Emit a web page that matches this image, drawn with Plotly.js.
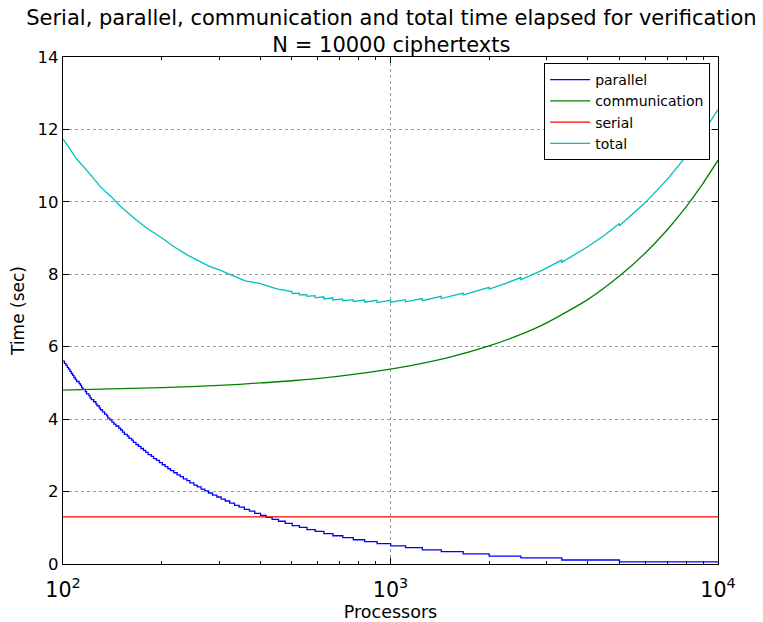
<!DOCTYPE html>
<html>
<head>
<meta charset="utf-8">
<script src="https://cdn.plot.ly/plotly-3.0.1.min.js"></script>
<style>html,body{margin:0;padding:0;background:#fff;}#chart{width:763px;height:622px;}</style>
</head>
<body>
<div id="chart"></div>
<script>
// Parallel time (step function) – start of each level
const parallelP = [100,101,102,103,104,105,106,107,108,109,110,112,113,114,115,117,118,120,121,122,124,126,127,129,130,132,134,136,137,139,
  141,143,145,148,150,152,154,157,159,162,164,167,170,173,176,179,182,186,189,193,197,
  201,205,209,213,218,223,228,233,239,244,251,257,264,271,278,286,295,304,313,323,334,345,358,371,385,401,417,435,455,477,
  501,527,556,589,626,667,715,770,834,910,1001,1112,1251,1429,1667,2001,2501,3334,5001,10000];
const parallelT = [5.60,5.54,5.49,5.43,5.38,5.32,5.26,5.21,5.15,5.10,5.04,4.98,4.93,4.87,4.82,4.76,4.70,4.65,4.59,4.54,4.48,4.42,4.37,4.31,4.26,4.20,4.14,4.09,4.03,3.98,
  3.92,3.86,3.81,3.75,3.70,3.64,3.58,3.53,3.47,3.42,3.36,3.30,3.25,3.19,3.14,3.08,3.02,2.97,2.91,2.86,2.80,
  2.74,2.69,2.63,2.58,2.52,2.46,2.41,2.35,2.30,2.24,2.18,2.13,2.07,2.02,1.96,1.90,1.85,1.79,1.74,1.68,1.62,1.57,1.51,1.46,1.40,1.34,1.29,1.23,1.18,1.12,
  1.06,1.01,0.95,0.90,0.84,0.78,0.73,0.67,0.62,0.56,0.50,0.45,0.39,0.34,0.28,0.22,0.17,0.11,0.06,0.06];

// Communication time
const commP = [100,150,200,300,400,500,700,1000,1500,2000,2500,3000,4000,5000,6000,7000,8000,9000,10000];
const commT = [4.80,4.84,4.87,4.93,5.00,5.06,5.19,5.38,5.70,6.02,6.34,6.66,7.30,7.95,8.59,9.23,9.87,10.51,11.15];

// Serial time
const serialP = [100,10000];
const serialT = [1.30,1.30];

// Total time
const totalP = [100,110,120,130,140,150,165,180,200,220,240,260,280,300,330,360,400,450,500,
  501,526,527,555,556,588,589,625,626,666,667,714,715,769,770,833,834,909,910,1000,1001,1111,1112,1250,1251,1428,1429,1666,1667,2000,
  2001,2250,2500,2501,2900,3333,3334,4000,4500,5000,5001,6000,7000,8000,9000,10000];
const totalT = [11.74,11.19,10.80,10.42,10.15,9.87,9.55,9.28,9.01,8.74,8.53,8.37,8.22,8.12,7.97,7.82,7.74,7.60,7.52,
  7.47,7.48,7.43,7.44,7.39,7.41,7.35,7.38,7.32,7.35,7.29,7.32,7.27,7.30,7.25,7.29,7.23,7.28,7.22,7.28,7.23,7.30,7.24,7.33,7.27,7.39,7.33,7.48,7.43,7.64,
  7.59,7.75,7.91,7.85,8.11,8.39,8.33,8.76,9.08,9.40,9.34,9.98,10.62,11.26,11.91,12.55];

const traces = [
  {x: parallelP, y: parallelT, name: 'parallel', mode: 'lines', line: {color: '#0000ff', width: 1.3, shape: 'hv'}},
  {x: commP, y: commT, name: 'communication', mode: 'lines', line: {color: '#008000', width: 1.3, shape: 'spline', smoothing: 0.6}},
  {x: serialP, y: serialT, name: 'serial', mode: 'lines', line: {color: '#ff0000', width: 1.3}},
  {x: totalP, y: totalT, name: 'total', mode: 'lines', line: {color: '#00bfbf', width: 1.3}}
];

const font = {family: 'DejaVu Sans, sans-serif', color: '#000'};

const layout = {
  width: 763, height: 622,
  margin: {l: 63, r: 45, t: 57, b: 58},
  paper_bgcolor: '#fff', plot_bgcolor: '#fff',
  font: Object.assign({size: 15}, font),
  title: {text: 'Serial, parallel, communication and total time elapsed for verification<br>N = 10000 ciphertexts',
          font: Object.assign({size: 21}, font), x: 0.513, xanchor: 'center', yref: 'container', y: 0.96, yanchor: 'top'},
  showlegend: true,
  legend: {x: 0.988, xanchor: 'right', y: 0.988, yanchor: 'top', bgcolor: '#fff', bordercolor: '#000', borderwidth: 1,
           font: Object.assign({size: 14}, font), tracegroupgap: 0, itemwidth: 40},
  xaxis: {
    type: 'log', range: [2, 4], dtick: 1, exponentformat: 'power',
    showline: true, linecolor: '#000', linewidth: 1.2, mirror: 'ticks',
    ticks: 'inside', ticklen: 6, tickcolor: '#000',
    showgrid: true, gridcolor: '#999999', griddash: 'dot', gridwidth: 1,
    zeroline: false, ticklabelstandoff: 8,
    minor: {ticks: 'inside', ticklen: 3, tickcolor: '#000', dtick: 'D1', showgrid: false},
    tickfont: Object.assign({size: 16.5}, font),
    title: {text: 'Processors', font: Object.assign({size: 17.5}, font), standoff: 4}
  },
  yaxis: {
    range: [0, 14], dtick: 2,
    showline: true, linecolor: '#000', linewidth: 1.2, mirror: 'ticks',
    ticks: 'inside', ticklen: 6, tickcolor: '#000',
    showgrid: true, gridcolor: '#999999', griddash: 'dot', gridwidth: 1,
    zeroline: false,
    tickfont: Object.assign({size: 16.5}, font),
    title: {text: 'Time (sec)', font: Object.assign({size: 17}, font), standoff: 8}
  }
};

Plotly.newPlot('chart', traces, layout, {displayModeBar: false, staticPlot: true});
</script>
</body>
</html>
